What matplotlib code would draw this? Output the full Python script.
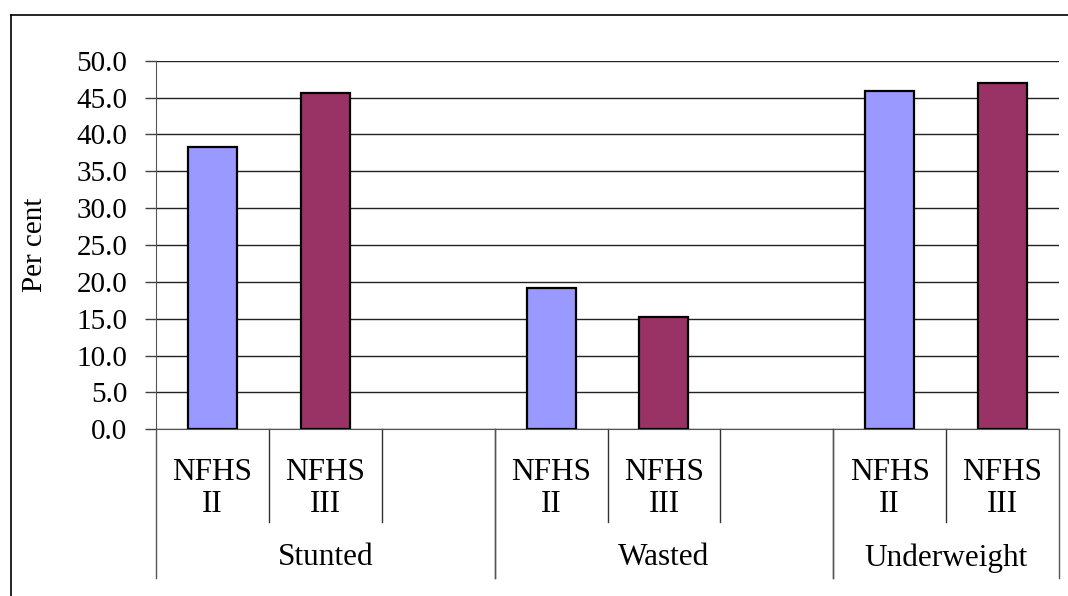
import matplotlib
matplotlib.use("Agg")
import matplotlib.pyplot as plt
from matplotlib.lines import Line2D

# data
groups = ['Stunted', 'Wasted', 'Underweight']
surveys = ['NFHS\nII', 'NFHS\nIII']
nfhs2 = [38.3, 19.1, 45.9]
nfhs3 = [45.6, 15.3, 47.0]
yticks = [0, 5, 10, 15, 20, 25, 30, 35, 40, 45, 50]

colors = ['#9999FF', '#993366']

plt.rcParams['font.family'] = ['Liberation Serif', 'DejaVu Serif']

fig = plt.figure(figsize=(10.68, 5.96), dpi=100)
ax = fig.add_axes([156 / 1068, 1 - 429.3 / 596, 903 / 1068, 368.6 / 596])

# Excel-style layout: 3 slots per group (2 bars + 1 empty), last group has no empty slot
nslots = 3 * len(groups) - 1
bar_w = 0.435
for s, vals in enumerate([nfhs2, nfhs3]):
    xs = [3 * g + s + 0.5 for g in range(len(groups))]
    ax.bar(xs, vals, width=bar_w, color=colors[s], edgecolor='black',
           linewidth=1.6, zorder=3)

ax.set_xlim(0, nslots)
ax.set_ylim(0, 50)
ax.set_yticks(yticks)
ax.set_yticklabels(['%.1f' % t for t in yticks], fontsize=21)
ax.tick_params(axis='y', length=8, width=1, pad=12.5, color='#404040')
ax.set_xticks([])
ax.yaxis.grid(True, color='#222222', linewidth=1)
ax.set_axisbelow(True)
for side in ['top', 'right']:
    ax.spines[side].set_visible(False)
ax.spines['left'].set_color('#555555')
ax.spines['bottom'].set_color('#555555')

ax.set_ylabel('Per cent', fontsize=21)
ax.yaxis.set_label_coords(-0.12, 0.5)

# multi-level category axis
tr = ax.get_xaxis_transform()
for g, name in enumerate(groups):
    start = 3 * g
    end = min(3 * g + 3, nslots)
    for s, lab in enumerate(surveys):
        ax.text(start + s + 0.5, -0.16, lab, transform=tr, ha='center',
                va='center', fontsize=22.5, linespacing=1.12)
    ax.text((start + end) / 2, -0.349, name, transform=tr, ha='center',
            va='center', fontsize=22.5)
    for b in range(start + 1, end):
        ax.plot([b, b], [0, -0.2515], transform=tr, color='#333333',
                linewidth=1, clip_on=False)
    for b in [start, end]:
        ax.plot([b, b], [0, -0.403], transform=tr, color='#555555',
                linewidth=1, clip_on=False)

# outer chart border (left and top edges visible)
fig.add_artist(Line2D([10.7 / 1068, 10.7 / 1068], [0, 1 - 15 / 596],
                      color='black', linewidth=1.2))
fig.add_artist(Line2D([10.7 / 1068, 1], [1 - 15 / 596, 1 - 15 / 596],
                      color='black', linewidth=1.2))

fig.savefig('out.png', dpi=100)
